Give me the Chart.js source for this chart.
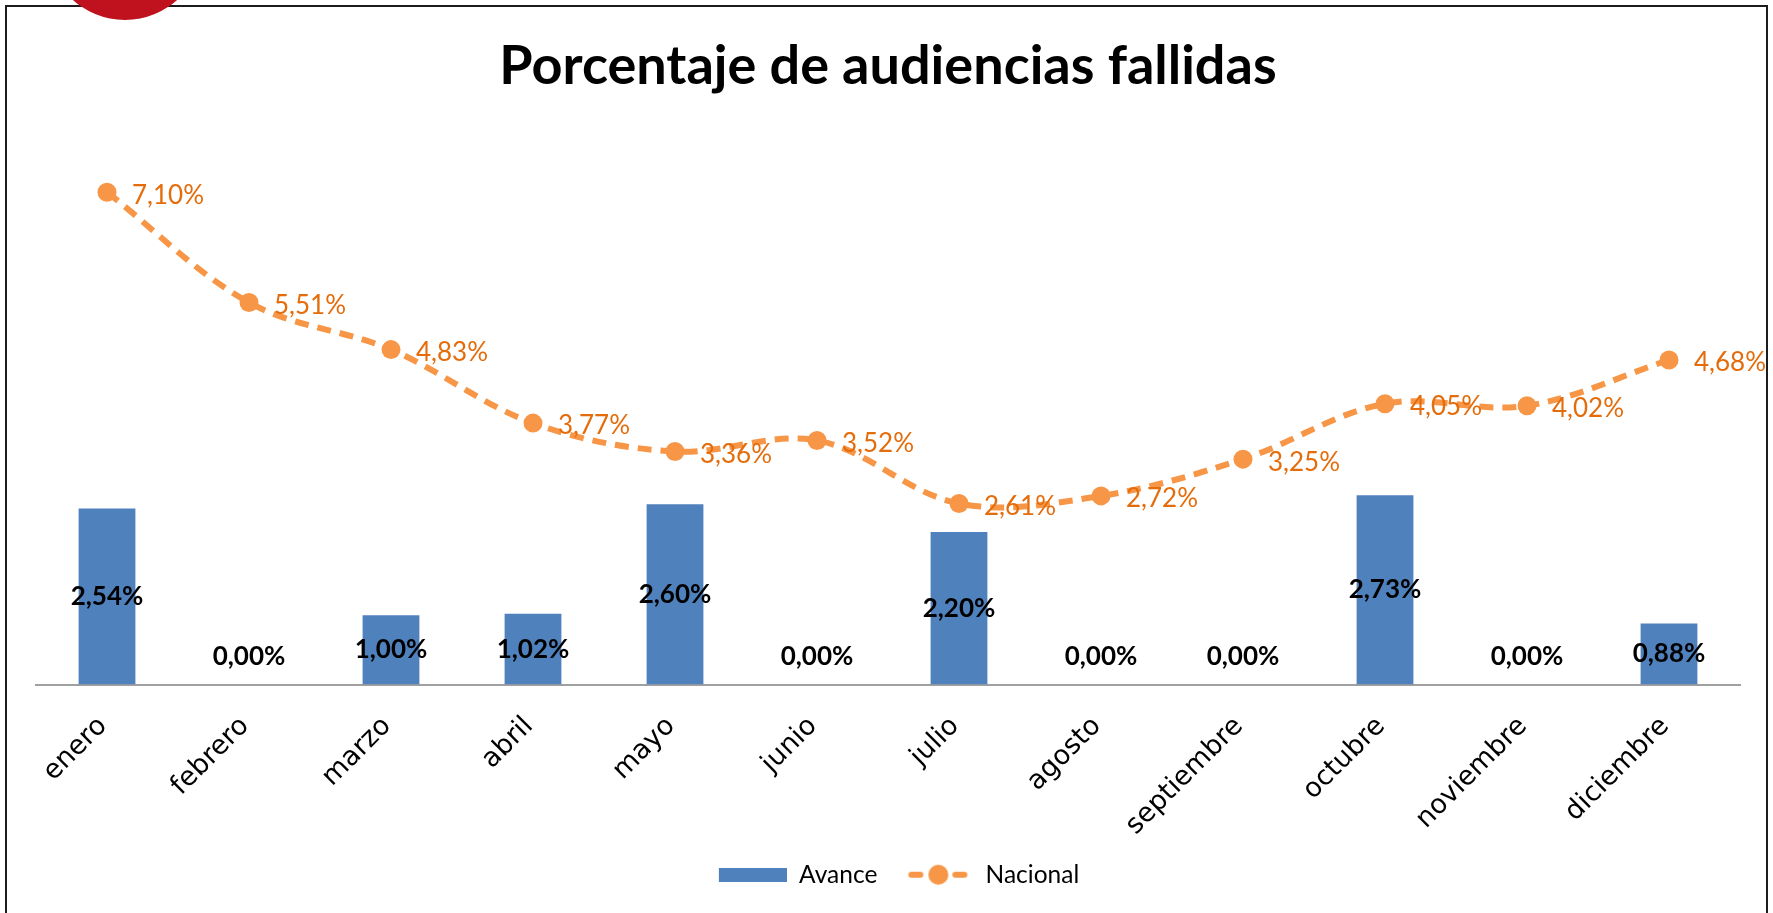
<!DOCTYPE html>
<html lang="es">
<head>
<meta charset="utf-8">
<title>Porcentaje de audiencias fallidas</title>
<script src="https://cdn.jsdelivr.net/npm/chart.js@4.4.1/dist/chart.umd.min.js"></script>
<style>
    html, body { margin: 0; padding: 0; background: #fff; overflow: hidden; }
    #wrap { position: relative; width: 1773px; height: 913px; overflow: hidden; }
    #marco { position: absolute; left: 5px; top: 5px; width: 1759px; height: 980px; border: 2px solid #1c1c1c; }
    #logo { position: absolute; left: 47px; top: -136px; width: 156px; height: 156px; border-radius: 50%; background: #c0111f; }
    #grafico { position: absolute; left: 0; top: 0; }
</style>
</head>
<body>
<div id="wrap">
    <div id="marco"></div>
    <canvas id="grafico" width="1773" height="913"></canvas>
    <div id="logo"></div>
</div>
<script>
const meses = ['enero', 'febrero', 'marzo', 'abril', 'mayo', 'junio', 'julio', 'agosto', 'septiembre', 'octubre', 'noviembre', 'diciembre'];
const avance = [2.54, 0.00, 1.00, 1.02, 2.60, 0.00, 2.20, 0.00, 0.00, 2.73, 0.00, 0.88];
const nacional = [7.10, 5.51, 4.83, 3.77, 3.36, 3.52, 2.61, 2.72, 3.25, 4.05, 4.02, 4.68];
const yMax = 8;

const AZUL = '#4f81bd';
const NARANJA = '#f79646';
const NARANJA_TEXTO = '#e46c0a';

function fmt(v) {
    return v.toFixed(2).replace('.', ',') + '%';
}

// legend swatches are drawn in a 90px wide box, right aligned, so the gap between items matches
function muestraAvance() {
    const c = document.createElement('canvas');
    c.width = 90; c.height = 14;
    const g = c.getContext('2d');
    g.fillStyle = AZUL;
    g.fillRect(22, 0, 68, 14);
    return c;
}

function muestraNacional() {
    const c = document.createElement('canvas');
    c.width = 90; c.height = 22;
    const g = c.getContext('2d');
    g.strokeStyle = NARANJA;
    g.lineWidth = 6;
    g.lineCap = 'round';
    g.beginPath();
    g.moveTo(28, 11); g.lineTo(37, 11);
    g.moveTo(72, 11); g.lineTo(81, 11);
    g.stroke();
    g.fillStyle = NARANJA;
    g.beginPath();
    g.arc(55, 11, 10, 0, Math.PI * 2);
    g.fill();
    return c;
}

// data labels: bars in the middle of the bar, line values to the right of each point
const etiquetas = {
    id: 'etiquetas',
    afterDatasetsDraw(chart) {
        const ctx = chart.ctx;
        ctx.save();
        ctx.textBaseline = 'middle';

        ctx.font = 'bold 26px Lato';
        ctx.fillStyle = '#000';
        ctx.textAlign = 'center';
        chart.getDatasetMeta(0).data.forEach((el, i) => {
            const y = Math.min((el.y + el.base) / 2, el.base - 28);
            ctx.fillText(fmt(avance[i]), el.x, y);
        });

        ctx.font = '26px Lato';
        ctx.fillStyle = NARANJA_TEXTO;
        ctx.textAlign = 'left';
        chart.getDatasetMeta(1).data.forEach((el, i) => {
            ctx.fillText(fmt(nacional[i]), el.x + 25, el.y + 3);
        });

        ctx.restore();
    }
};

new Chart(document.getElementById('grafico'), {
    type: 'bar',
    data: {
        labels: meses,
        datasets: [
            {
                type: 'bar',
                label: 'Avance',
                data: avance,
                backgroundColor: AZUL,
                barPercentage: 0.4,
                categoryPercentage: 1,
                order: 2
            },
            {
                type: 'line',
                label: 'Nacional',
                data: nacional,
                borderColor: NARANJA,
                borderWidth: 6,
                borderDash: [14, 9],
                tension: 0.35,
                pointRadius: 9.5,
                pointBackgroundColor: NARANJA,
                pointBorderWidth: 0,
                order: 1
            }
        ]
    },
    options: {
        responsive: false,
        animation: false,
        layout: { padding: { left: 36, right: 33, top: 0, bottom: 16 } },
        scales: {
            x: {
                grid: { display: false, drawTicks: false },
                border: { display: true, color: '#a0a0a0', width: 2 },
                ticks: {
                    color: '#000',
                    font: { family: 'DejaVu Sans', size: 27 },
                    minRotation: 45,
                    maxRotation: 45,
                    autoSkip: false,
                    padding: 26,
                    labelOffset: -4
                },
                afterFit(scale) { scale.height = 172; }
            },
            y: { display: false, min: 0, max: yMax }
        },
        plugins: {
            title: {
                display: true,
                text: 'Porcentaje de audiencias fallidas',
                color: '#000',
                font: { family: 'Lato', size: 54, weight: 'bold' },
                padding: { top: 34, bottom: 31 }
            },
            legend: {
                position: 'bottom',
                labels: {
                    usePointStyle: true,
                    pointStyleWidth: 90,
                    color: '#000',
                    font: { family: 'Lato', size: 24.5 },
                    padding: 6,
                    generateLabels() {
                        return [
                            { text: 'Avance', pointStyle: muestraAvance(), fillStyle: 'transparent', strokeStyle: 'transparent', lineWidth: 0, hidden: false, datasetIndex: 0 },
                            { text: 'Nacional', pointStyle: muestraNacional(), fillStyle: 'transparent', strokeStyle: 'transparent', lineWidth: 0, hidden: false, datasetIndex: 1 }
                        ];
                    }
                }
            },
            tooltip: { enabled: false }
        }
    },
    plugins: [etiquetas]
});
</script>
</body>
</html>
